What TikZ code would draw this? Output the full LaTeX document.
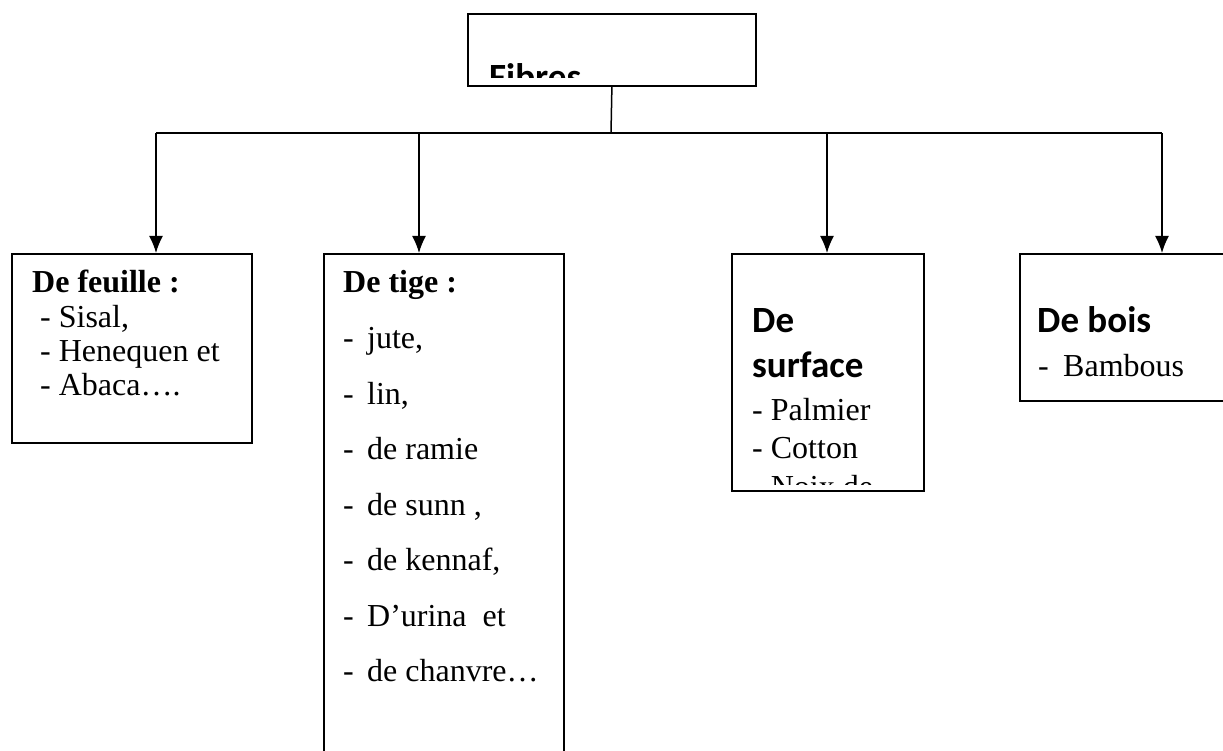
\documentclass[tikz,border=0pt]{standalone}
\usepackage{fontspec}
\setmainfont{Liberation Serif}
\newfontfamily\carlito{Carlito}
\usetikzlibrary{arrows.meta}

\tikzset{
  box/.style={draw, line width=1.8pt, anchor=north west, inner sep=0pt},
  head/.style={anchor=base west, inner sep=0pt, font=\carlito\bfseries\fontsize{37}{44}\selectfont},
  bhead/.style={anchor=base west, inner sep=0pt, font=\bfseries\fontsize{32}{36}\selectfont},
  item/.style={anchor=base west, inner sep=0pt, font=\fontsize{32}{36}\selectfont},
  link/.style={line width=1.5pt}
}

\begin{document}
\begin{tikzpicture}[x=1pt, y=-1pt, >={Latex[length=17pt,width=14pt]}]
    \useasboundingbox (0,0) rectangle (1223,751);

    % top box
    \node[box, minimum width=288pt, minimum height=72pt] (fibres) at (467,13) {};
    \begin{scope}
      \clip (fibres.north west) rectangle ([yshift=9pt]fibres.south east);
      \node[head] (fibres-t) at (489,90) {Fibres};
    \end{scope}

    % de feuille
    \node[box, minimum width=240pt, minimum height=189pt] (feuille) at (11,253) {};
    \node[bhead] (feuille-t) at (32,293) {De feuille :};
    \foreach \t [count=\i] in {{Sisal,},{Henequen et},{Abaca….}}
      \node[item] (feuille-\i) at (40,{293+34*\i}) {- \t};

    % de tige
    \node[box, minimum width=240pt, minimum height=512pt] (tige) at (323,253) {};
    \node[bhead] (tige-t) at (343,293) {De tige :};
    \foreach \t [count=\i] in {{jute,},{lin,},{de ramie},{de sunn ,},{de kennaf,},{D’urina\ \ et},{de chanvre…}}
      \node[item] (tige-\i) at (343,{293+55.5*\i}) {\makebox[24pt][l]{-}\t};

    % de surface
    \node[box, minimum width=192pt, minimum height=237pt] (surface) at (731,253) {};
    \node[head] (surface-t1) at (752,332) {De};
    \node[head] (surface-t2) at (752,377) {surface};
    \node[item] (surface-1) at (752,420) {- Palmier};
    \node[item] (surface-2) at (752,458) {- Cotton};
    \begin{scope}
      \clip (surface.north west) rectangle ([yshift=7pt]surface.south east);
      \node[item] (surface-3) at (752,497) {- Noix de};
    \end{scope}

    % de bois
    \node[box, minimum width=215pt, minimum height=147pt] (bois) at (1019,253) {};
    \node[head] (bois-t) at (1037,332) {De bois};
    \node[item] (bois-1) at (1038,376) {\makebox[25pt][l]{-}Bambous};

    % branches
    \coordinate (hub) at (611,133);
    \coordinate (b1) at (156,133);
    \coordinate (b2) at (419,133);
    \coordinate (b3) at (827,133);
    \coordinate (b4) at (1162,133);

    \draw[link] (fibres.south) -- (hub);
    \draw[link] (b1) -- (b4);
    \draw[link,->] (b1) -- (b1 |- feuille.north);
    \draw[link,->] (b2) -- (b2 |- tige.north);
    \draw[link,->] (b3) -- (b3 |- surface.north);
    \draw[link,->] (b4) -- (b4 |- bois.north);
  \end{tikzpicture}
\end{document}
